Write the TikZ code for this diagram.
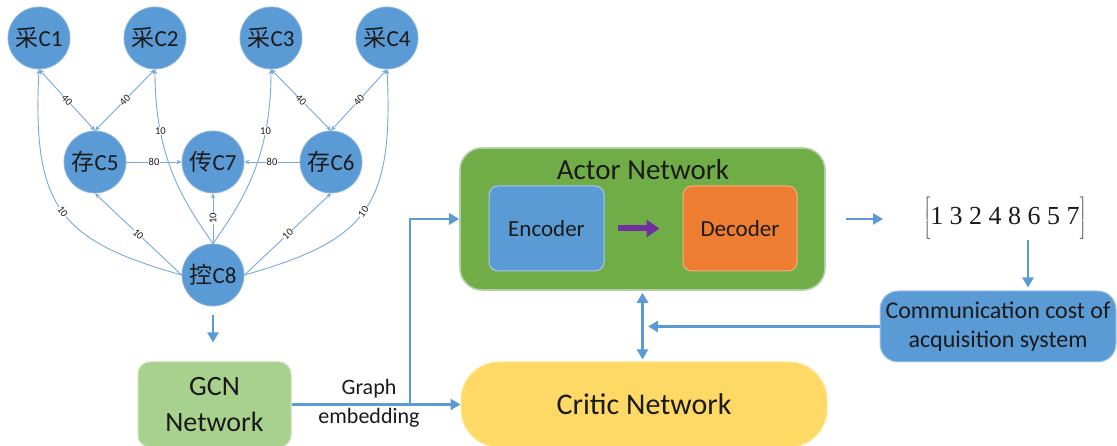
\documentclass[tikz,border=0pt]{standalone}
\usepackage{fontspec}
\setmainfont{Carlito}
\newfontfamily\cjk{Noto Sans CJK SC}
\newfontfamily\vecfont{Liberation Serif}
\usetikzlibrary{arrows.meta}

\definecolor{nodeblue}{HTML}{5B9BD5}
\definecolor{nodeedge}{HTML}{8DB4E2}
\definecolor{edgeblue}{HTML}{7AA7DB}
\definecolor{flowblue}{HTML}{5B9BD5}
\definecolor{actorgreen}{HTML}{70AD47}
\definecolor{actorrim}{HTML}{B4CFA6}
\definecolor{encoderrim}{HTML}{A8C8EA}
\definecolor{decoderorange}{HTML}{ED7D31}
\definecolor{decoderrim}{HTML}{F4B183}
\definecolor{gcngreen}{HTML}{A9D18E}
\definecolor{gcnrim}{HTML}{C5E0B4}
\definecolor{criticyellow}{HTML}{FFD966}
\definecolor{criticrim}{HTML}{FFE699}
\definecolor{arrowpurple}{HTML}{7030A0}
\definecolor{inktext}{HTML}{1A1A1A}

\begin{document}
\begin{tikzpicture}[x=1pt,y=-1pt,
  station/.style={circle, fill=nodeblue, draw=nodeedge, line width=0.8pt,
    minimum size=62pt, inner sep=0pt, text=inktext,
    font=\fontsize{23}{26}\selectfont},
  link/.style={draw=edgeblue, line width=0.9pt},
  oneway/.style={link, -{Stealth[length=5pt,width=4.5pt]}},
  twoway/.style={link, {Stealth[length=5pt,width=4.5pt]}-{Stealth[length=5pt,width=4.5pt]}},
  weight/.style={fill=white, inner sep=0.5pt, text=inktext,
    font=\fontsize{10.5}{11}\selectfont},
  flow/.style={draw=flowblue, line width=2.6pt, -{Triangle[length=10pt,width=11pt]}},
  flowboth/.style={draw=flowblue, line width=2.6pt,
    {Triangle[length=10pt,width=11pt]}-{Triangle[length=10pt,width=11pt]}},
  panel/.style={rectangle, inner sep=0pt, text=inktext, align=center},
]
\useasboundingbox (0,0) rectangle (1117,446);

% ---------- task graph ----------
\node[station] (c1) at (39,38)   {{\cjk 采}C1};
\node[station] (c2) at (155,38)  {{\cjk 采}C2};
\node[station] (c3) at (271,38)  {{\cjk 采}C3};
\node[station] (c4) at (387,38)  {{\cjk 采}C4};
\node[station] (c5) at (95,162)  {{\cjk 存}C5};
\node[station] (c7) at (213,162) {{\cjk 传}C7};
\node[station] (c6) at (331,162) {{\cjk 存}C6};
\node[station] (c8) at (213,275) {{\cjk 控}C8};

% acquisition -- storage links
\draw[twoway] (c1.south) -- node[weight, sloped] {40} (c5.north);
\draw[twoway] (c2.south) -- node[weight, sloped] {40} (c5.north);
\draw[twoway] (c3.south) -- node[weight, sloped] {40} (c6.north);
\draw[twoway] (c4.south) -- node[weight, sloped] {40} (c6.north);

% storage -- transmission links
\draw[oneway] (c5.east) -- node[weight] {80} (c7.west);
\draw[oneway] (c6.west) -- node[weight] {80} (c7.east);

% control links
\draw[oneway] (c8.north) -- node[weight, sloped] {10} (c7.south);
\draw[oneway] (c8.west) -- node[weight, sloped] {10} (c5.south);
\draw[oneway] (c8.east) -- node[weight, sloped] {10} (c6.south);
\draw[oneway] (c8.west) .. controls +(-120,-34) and +(-7,140) ..
  node[weight, sloped, pos=0.5] {10} (c1.south);
\draw[oneway] (c8.east) .. controls +(120,-34) and +(7,140) ..
  node[weight, sloped, pos=0.5] {10} (c4.south);
\draw[oneway] (c8.north) .. controls +(-28.5,-41) and +(0,90) ..
  node[weight, pos=0.74] {10} (c2.south);
\draw[oneway] (c8.north) .. controls +(28.5,-41) and +(0,90) ..
  node[weight, pos=0.74] {10} (c3.south);

% ---------- learning pipeline ----------
\node[panel, fill=gcngreen, draw=gcnrim, line width=1pt, rounded corners=12pt,
  minimum width=153pt, minimum height=85pt,
  font=\fontsize{28}{36}\selectfont] (gcn) at (214.5,404.5) {GCN\\Network};

\node[panel, fill=criticyellow, draw=criticrim, line width=1pt, rounded corners=38pt,
  minimum width=366pt, minimum height=85pt,
  font=\fontsize{30}{34}\selectfont] (critic) at (644,404.5) {Critic Network};

\node[panel, fill=actorgreen, draw=actorrim, line width=1.6pt, rounded corners=22pt,
  minimum width=365pt, minimum height=142pt] (actor) at (642.5,219) {};
\node[text=inktext, font=\fontsize{29}{32}\selectfont] (actortitle) at (643,170) {Actor Network};

\node[panel, fill=nodeblue, draw=encoderrim, line width=1pt, rounded corners=9pt,
  minimum width=115pt, minimum height=85pt,
  font=\fontsize{23}{26}\selectfont] (encoder) at (546.5,228.5) {Encoder};
\node[panel, fill=decoderorange, draw=decoderrim, line width=1pt, rounded corners=9pt,
  minimum width=114pt, minimum height=85pt,
  font=\fontsize{23}{26}\selectfont] (decoder) at (740,228.5) {Decoder};
\draw[draw=arrowpurple, line width=6pt, -{Triangle[length=13pt,width=17pt]},
  shorten <=13pt, shorten >=23pt] (encoder.east) -- (decoder.west);

\node[inner sep=0pt, text=inktext] (vec) at (1005,218)
  {\fontsize{26}{30}\selectfont$\left[\rule[-14pt]{0pt}{38pt}\mbox{\vecfont 1 3 2 4 8 6 5 7}\right]$};

\node[panel, fill=nodeblue, draw=encoderrim, line width=1pt, rounded corners=18pt,
  minimum width=236pt, minimum height=71pt,
  font=\fontsize{24}{29.5}\selectfont] (comm) at (998,326.5)
  {Communication cost of\\acquisition system};

\node[text=inktext, align=center, font=\fontsize{22}{29}\selectfont] (embedtext) at (369,403)
  {Graph\\embedding};

% flow arrows
\coordinate (fork) at (410,404.5);
\coordinate (vecin) at (883,219);
\coordinate (vecout) at (1028,240);
\coordinate (critin) at (648,326.5);

\draw[flow, shorten <=9pt, shorten >=19pt] (c8.south) -- (c8.south |- gcn.north);
\draw[flow] (gcn.east) -- (critic.west);
\draw[flow] (fork) |- (actor.west);
\draw[flow, shorten <=20pt] (actor.east) -- (vecin);
\draw[flow, shorten >=3pt] (vecout) -- (vecout |- comm.north);
\draw[flow] (comm.west) -- (critin);
\draw[flowboth, shorten <=2pt, shorten >=2pt] (actor.south) -- (actor.south |- critic.north);
\end{tikzpicture}
\end{document}
